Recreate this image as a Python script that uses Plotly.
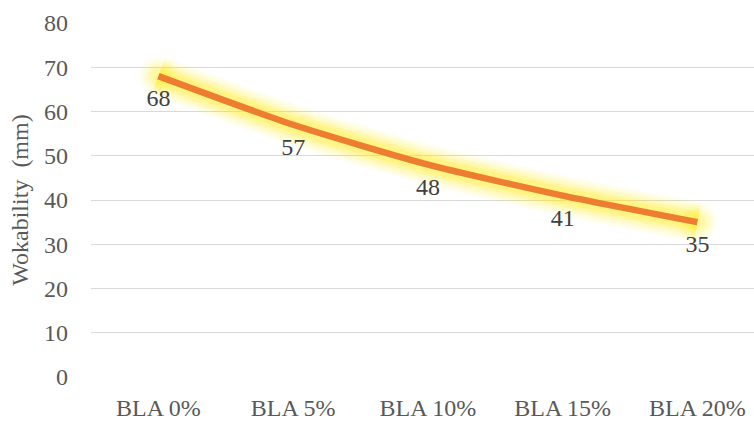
import plotly.graph_objects as go

# Workability of mixes with increasing BLA replacement
categories = ["BLA 0%", "BLA 5%", "BLA 10%", "BLA 15%", "BLA 20%"]
workability = [68, 57, 48, 41, 35]

y_ticks = [0, 10, 20, 30, 40, 50, 60, 70, 80]

SERIF = "Liberation Serif"
LINE_COLOR = "#ED7D31"

fig = go.Figure()

# Soft yellow halo under the line, built from stacked translucent strokes;
# endpoint dots round off the halo's ends
n = len(workability)
for width, alpha in [(40, 0.07), (34, 0.09), (28, 0.12), (22, 0.16), (16, 0.22)]:
    color = f"rgba(255,238,20,{alpha})"
    fig.add_trace(go.Scatter(
        x=categories, y=workability, mode="lines+markers",
        line=dict(color=color, width=width, shape="spline", smoothing=0.6),
        marker=dict(color=color, size=[width if i in (0, n - 1) else 0 for i in range(n)],
                    line=dict(width=0)),
        hoverinfo="skip", showlegend=False,
    ))

# Main smoothed line
fig.add_trace(go.Scatter(
    x=categories, y=workability, mode="lines",
    line=dict(color=LINE_COLOR, width=6.5, shape="spline", smoothing=0.6),
    showlegend=False,
))

# Value labels below each point
fig.add_trace(go.Scatter(
    x=categories, y=workability, mode="markers+text",
    marker=dict(size=18, color="rgba(0,0,0,0)"),
    text=[str(v) for v in workability],
    textposition="bottom center",
    textfont=dict(family=SERIF, size=24, color="#404040"),
    hoverinfo="skip", showlegend=False,
))

fig.update_layout(
    width=754, height=421,
    margin=dict(l=91, r=0, t=23, b=42),
    paper_bgcolor="white", plot_bgcolor="white",
    font=dict(family=SERIF, size=24, color="#595959"),
    xaxis=dict(
        type="category", range=[-0.5, 4.42],
        showgrid=False, showline=False, zeroline=False,
        ticks="", ticklabelstandoff=14,
        tickfont=dict(family=SERIF, size=24, color="#595959"),
    ),
    yaxis=dict(
        range=[0, 80], tickvals=y_ticks,
        showgrid=True, gridcolor="#D9D9D9", gridwidth=1.4,
        zeroline=False, showline=False, ticks="",
        ticklabelstandoff=22,
        tickfont=dict(family=SERIF, size=24, color="#595959"),
        title=dict(text="Wokability  (mm)", standoff=8,
                   font=dict(family=SERIF, size=24, color="#595959")),
    ),
)

fig.write_html("out.html")
